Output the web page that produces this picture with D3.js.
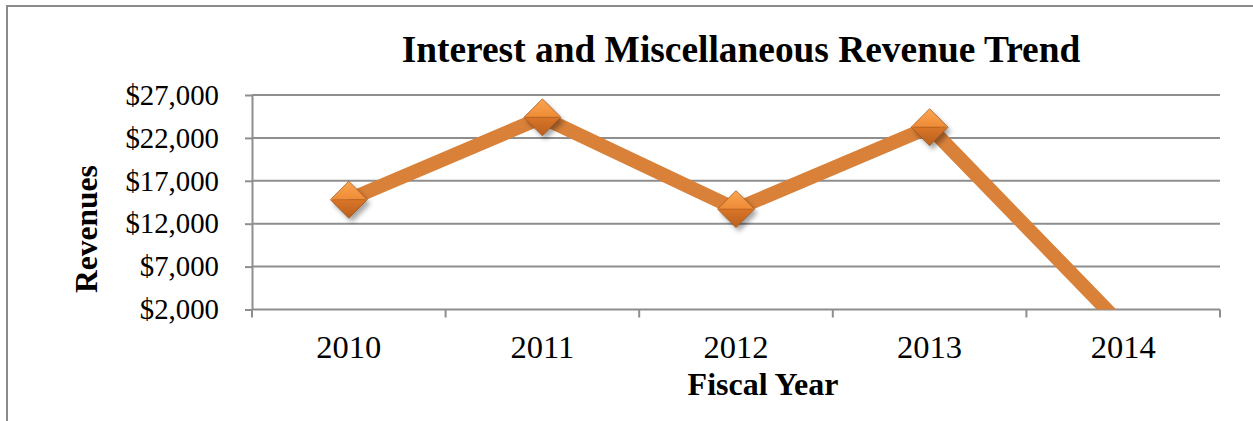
<!DOCTYPE html>
<html>
<head>
<meta charset="utf-8">
<script src="https://cdn.jsdelivr.net/npm/d3@7"></script>
<style>
  html, body { margin: 0; padding: 0; background: #fff; }
  svg { display: block; }
  text { font-family: "Liberation Serif", "Times New Roman", serif; fill: #000; }
</style>
</head>
<body>
<svg id="chart" width="1253" height="421"></svg>
<script>
// Fiscal years and revenue values
const years = ["2010", "2011", "2012", "2013", "2014"];
const revenues = [14800, 24400, 13700, 23250, 0];
const yTicks = [2000, 7000, 12000, 17000, 22000, 27000];

const titleText = "Interest and Miscellaneous Revenue Trend";
const xTitle = "Fiscal Year";
const yTitle = "Revenues";

const W = 1253, H = 421;
const plot = { left: 252, right: 1220, top: 95, bottom: 309.5 };

const svg = d3.select("#chart");
const defs = svg.append("defs");

// chart frame
svg.append("rect")
  .attr("x", 7).attr("y", 6)
  .attr("width", W + 20).attr("height", H + 20)
  .attr("fill", "#fff")
  .attr("stroke", "#8a8a8a").attr("stroke-width", 2);

const x = d3.scaleBand().domain(years).range([plot.left, plot.right]).padding(0);
const y = d3.scaleLinear().domain([yTicks[0], yTicks[yTicks.length - 1]]).range([plot.bottom, plot.top]);

// horizontal gridlines
svg.append("g")
  .selectAll("line")
  .data(yTicks.slice(1))
  .join("line")
  .attr("x1", plot.left).attr("x2", plot.right)
  .attr("y1", d => y(d)).attr("y2", d => y(d))
  .attr("stroke", "#8e8e8e").attr("stroke-width", 2);

// y axis
const yAxis = svg.append("g")
  .attr("transform", `translate(${plot.left},0)`)
  .call(d3.axisLeft(y).tickValues(yTicks).tickFormat(d3.format("$,")).tickSize(7).tickPadding(26).tickSizeOuter(0));
yAxis.select(".domain").attr("stroke", "#8e8e8e").attr("stroke-width", 2);
yAxis.selectAll(".tick line").attr("stroke", "#8e8e8e").attr("stroke-width", 2);
yAxis.selectAll(".tick text")
  .attr("font-family", "Liberation Serif, Times New Roman, serif")
  .attr("font-size", 28.8).attr("fill", "#000");

// x axis with ticks at category boundaries
const xAxisG = svg.append("g").attr("transform", `translate(0,${plot.bottom})`);
xAxisG.append("line")
  .attr("x1", plot.left).attr("x2", plot.right)
  .attr("stroke", "#8e8e8e").attr("stroke-width", 2);
const boundaries = years.map(d => x(d)).concat([x(years[years.length - 1]) + x.bandwidth()]);
xAxisG.selectAll("line.tk")
  .data(boundaries)
  .join("line").attr("class", "tk")
  .attr("x1", d => d).attr("x2", d => d)
  .attr("y1", 0).attr("y2", 8)
  .attr("stroke", "#8e8e8e").attr("stroke-width", 2);
xAxisG.selectAll("text")
  .data(years)
  .join("text")
  .attr("x", d => x(d) + x.bandwidth() / 2)
  .attr("y", 48.5)
  .attr("text-anchor", "middle")
  .attr("font-size", 32.5)
  .text(d => d);

// clip for the series (stops at the category axis)
defs.append("clipPath").attr("id", "plotClip")
  .append("rect")
  .attr("x", plot.left).attr("y", 0)
  .attr("width", plot.right - plot.left).attr("height", plot.bottom);
defs.append("clipPath").attr("id", "markerClip")
  .append("rect")
  .attr("x", plot.left).attr("y", 0)
  .attr("width", plot.right - plot.left).attr("height", plot.bottom - 2);

const pts = years.map((yr, i) => ({ yr, v: revenues[i] }));
const cx = d => x(d.yr) + x.bandwidth() / 2;

const line = d3.line().x(cx).y(d => y(d.v));
svg.append("path")
  .datum(pts)
  .attr("clip-path", "url(#plotClip)")
  .attr("d", line)
  .attr("fill", "none")
  .attr("stroke", "#D98139")
  .attr("stroke-width", 14)
  .attr("stroke-linejoin", "miter");

// bevelled diamond markers
const shadow = defs.append("filter").attr("id", "mkShadow")
  .attr("x", "-50%").attr("y", "-50%").attr("width", "200%").attr("height", "200%");
shadow.append("feGaussianBlur").attr("stdDeviation", 2.5);

const gTop = defs.append("linearGradient").attr("id", "gTop")
  .attr("x1", 0).attr("y1", 0).attr("x2", 0).attr("y2", 1);
gTop.append("stop").attr("offset", "0%").attr("stop-color", "#FBA552");
gTop.append("stop").attr("offset", "100%").attr("stop-color", "#EE8B36");
const gBot = defs.append("linearGradient").attr("id", "gBot")
  .attr("x1", 0).attr("y1", 0).attr("x2", 0).attr("y2", 1);
gBot.append("stop").attr("offset", "0%").attr("stop-color", "#D97527");
gBot.append("stop").attr("offset", "100%").attr("stop-color", "#B9601F");

const R = 18.5;
const markers = svg.append("g").attr("clip-path", "url(#markerClip)")
  .selectAll("g")
  .data(pts)
  .join("g")
  .attr("transform", d => `translate(${cx(d)},${y(d.v)})`);

markers.append("path")
  .attr("d", `M0,${-R}L${R},0L0,${R}L${-R},0Z`)
  .attr("transform", "translate(3,4)")
  .attr("fill", "#000").attr("opacity", 0.35)
  .attr("filter", "url(#mkShadow)");
markers.append("path")
  .attr("d", `M0,${-R}L${R},0L${-R},0Z`)
  .attr("fill", "url(#gTop)");
markers.append("path")
  .attr("d", `M${-R},0L${R},0L0,${R}Z`)
  .attr("fill", "url(#gBot)");
markers.append("path")
  .attr("d", `M${-R + 2},0L${R - 2},0`)
  .attr("stroke", "#A65618").attr("stroke-width", 1).attr("opacity", 0.6);
markers.append("path")
  .attr("d", `M0,${-R}L${R},0L0,${R}L${-R},0Z`)
  .attr("fill", "none")
  .attr("stroke", "#9A531C").attr("stroke-width", 1).attr("opacity", 0.7);

// titles
svg.append("text")
  .attr("x", 741).attr("y", 62)
  .attr("text-anchor", "middle")
  .attr("font-weight", "bold").attr("font-size", 37.4)
  .text(titleText);

svg.append("text")
  .attr("x", 763).attr("y", 395)
  .attr("text-anchor", "middle")
  .attr("font-weight", "bold").attr("font-size", 32)
  .text(xTitle);

svg.append("text")
  .attr("transform", "translate(97,229) rotate(-90)")
  .attr("text-anchor", "middle")
  .attr("font-weight", "bold").attr("font-size", 31.5)
  .text(yTitle);
</script>
</body>
</html>
